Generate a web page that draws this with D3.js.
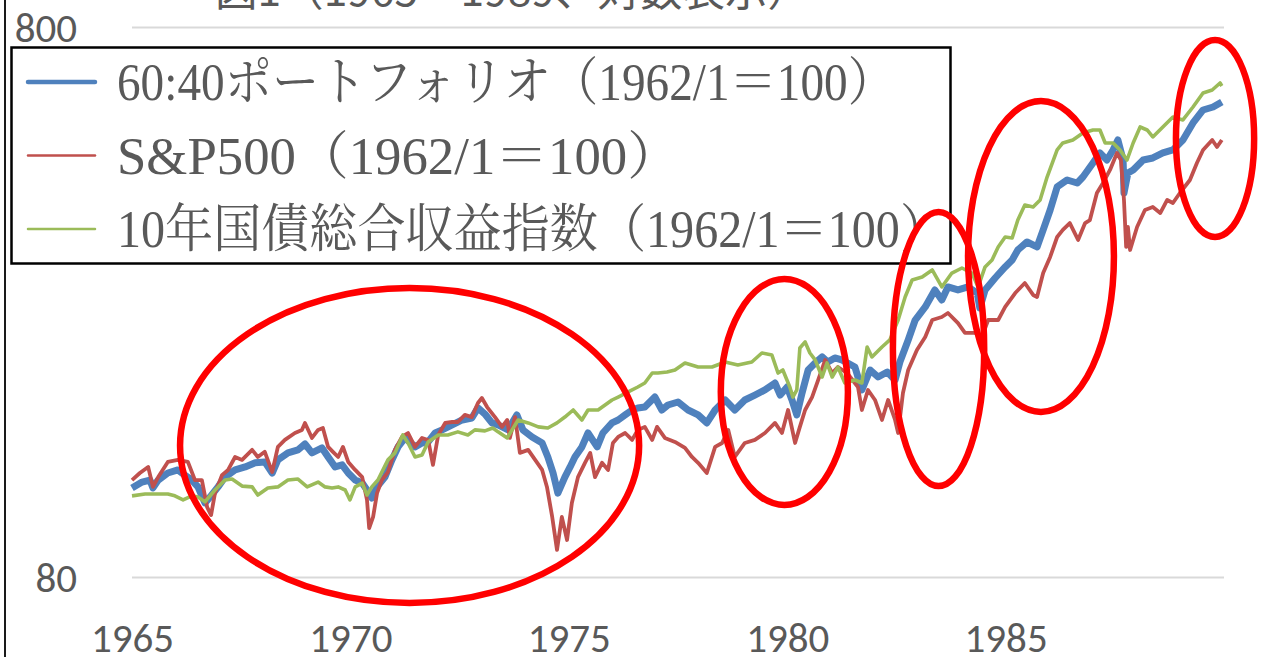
<!DOCTYPE html>
<html lang="ja">
<head>
<meta charset="utf-8">
<script src="https://cdn.jsdelivr.net/npm/d3@7"></script>
<style>
  html, body { margin: 0; padding: 0; background: #fff; }
  svg { display: block; }
</style>
</head>
<body>
<svg id="chart" width="1271" height="657"></svg>
<script>
// Series: [decimal year, index level (1962/1 = 100)]
const portfolio6040 = [[1965.00,116.4],[1965.23,119.3],[1965.41,120.3],[1965.48,116.4],[1965.60,120.3],[1965.82,123.9],[1966.05,125.5],[1966.21,122.8],[1966.37,120.3],[1966.51,116.9],[1966.67,109.3],[1966.79,112.1],[1966.97,116.9],[1967.13,121.8],[1967.36,125.5],[1967.59,127.1],[1967.82,129.3],[1968.04,129.8],[1968.21,123.9],[1968.34,130.9],[1968.57,134.8],[1968.80,136.5],[1968.96,139.9],[1969.12,134.8],[1969.35,137.6],[1969.49,132.5],[1969.65,127.1],[1969.81,128.2],[1969.95,123.9],[1970.11,120.3],[1970.27,118.8],[1970.38,115.4],[1970.49,111.6],[1970.61,116.9],[1970.79,121.8],[1970.95,130.9],[1971.09,138.2],[1971.25,143.5],[1971.48,138.2],[1971.64,140.5],[1971.78,141.1],[1971.94,146.5],[1972.10,148.4],[1972.33,151.5],[1972.56,154.7],[1972.78,156.0],[1972.92,162.7],[1973.08,158.6],[1973.24,152.8],[1973.38,151.5],[1973.61,148.4],[1973.81,158.0],[1973.95,148.4],[1974.16,144.1],[1974.39,140.5],[1974.52,132.5],[1974.64,123.9],[1974.75,113.9],[1974.91,121.8],[1975.03,127.1],[1975.14,132.5],[1975.30,138.2],[1975.44,146.5],[1975.65,138.2],[1975.78,146.5],[1975.99,152.8],[1976.13,154.7],[1976.29,158.0],[1976.45,161.3],[1976.58,162.7],[1976.74,163.3],[1976.97,170.3],[1977.13,161.3],[1977.27,164.7],[1977.50,166.8],[1977.73,161.3],[1977.96,158.0],[1978.16,152.8],[1978.35,161.3],[1978.58,168.2],[1978.80,161.3],[1979.03,168.2],[1979.26,171.7],[1979.49,175.4],[1979.72,180.6],[1979.84,171.7],[1980.00,177.6],[1980.11,168.2],[1980.22,158.0],[1980.34,173.2],[1980.48,190.7],[1980.64,196.4],[1980.80,201.4],[1980.93,197.2],[1981.09,200.6],[1981.25,198.9],[1981.55,193.1],[1981.71,175.4],[1981.90,190.7],[1982.08,185.2],[1982.29,189.1],[1982.47,182.9],[1982.58,197.2],[1982.77,216.3],[1982.93,235.1],[1983.16,248.3],[1983.38,266.6],[1983.54,255.7],[1983.68,270.0],[1983.91,266.6],[1984.14,270.0],[1984.35,263.2],[1984.41,247.3],[1984.53,266.6],[1984.76,280.3],[1984.99,293.6],[1985.15,302.3],[1985.28,315.2],[1985.49,325.9],[1985.72,319.2],[1985.86,342.8],[1986.02,372.6],[1986.18,410.3],[1986.41,422.5],[1986.64,417.2],[1986.77,427.8],[1987.00,453.6],[1987.16,473.1],[1987.32,459.4],[1987.46,479.1],[1987.57,499.6],[1987.69,459.4],[1987.71,400.1],[1987.80,435.0],[1987.92,440.6],[1988.15,459.4],[1988.37,463.3],[1988.60,473.1],[1988.83,479.1],[1989.06,499.6],[1989.29,536.4],[1989.52,566.4],[1989.75,573.5],[1989.95,585.6]];

const sp500 = [[1965.00,120.3],[1965.18,123.9],[1965.37,127.1],[1965.48,116.9],[1965.60,121.8],[1965.82,129.8],[1966.05,130.9],[1966.28,129.8],[1966.44,120.3],[1966.60,120.3],[1966.72,107.4],[1966.81,103.9],[1966.90,113.9],[1967.06,122.8],[1967.20,125.5],[1967.36,132.5],[1967.52,130.9],[1967.75,136.5],[1967.88,132.5],[1968.04,135.4],[1968.21,124.4],[1968.34,138.2],[1968.50,142.3],[1968.73,146.5],[1968.89,148.4],[1968.96,152.8],[1969.12,143.5],[1969.26,148.4],[1969.37,149.6],[1969.49,138.2],[1969.60,135.4],[1969.72,132.5],[1969.83,138.2],[1969.95,129.8],[1970.11,125.5],[1970.27,121.8],[1970.38,110.7],[1970.43,98.4],[1970.52,103.1],[1970.61,113.9],[1970.72,120.3],[1970.86,124.4],[1971.02,136.5],[1971.18,144.1],[1971.32,146.5],[1971.48,138.2],[1971.64,143.5],[1971.78,142.3],[1971.89,128.2],[1972.01,145.3],[1972.17,152.8],[1972.33,153.4],[1972.46,153.4],[1972.62,158.0],[1972.78,156.6],[1972.92,166.1],[1973.01,169.6],[1973.13,163.3],[1973.31,156.6],[1973.47,150.3],[1973.59,154.7],[1973.65,143.5],[1973.77,156.6],[1973.88,134.8],[1974.07,136.5],[1974.23,130.9],[1974.39,125.5],[1974.50,116.9],[1974.62,103.1],[1974.73,89.8],[1974.84,103.1],[1974.96,93.6],[1975.07,109.3],[1975.21,121.8],[1975.37,129.3],[1975.49,134.8],[1975.60,121.8],[1975.76,129.3],[1975.90,125.5],[1976.01,140.5],[1976.13,144.1],[1976.29,146.5],[1976.45,142.3],[1976.58,148.4],[1976.74,150.3],[1976.91,142.3],[1977.02,150.3],[1977.20,143.5],[1977.43,141.1],[1977.66,137.6],[1977.82,132.5],[1977.96,129.3],[1978.16,123.9],[1978.35,138.2],[1978.51,140.5],[1978.65,148.4],[1978.80,132.5],[1979.03,140.5],[1979.26,142.3],[1979.49,146.5],[1979.72,152.8],[1979.88,146.5],[1980.02,161.3],[1980.18,140.5],[1980.29,150.3],[1980.41,161.3],[1980.57,170.3],[1980.71,182.9],[1980.87,198.9],[1981.03,188.3],[1981.16,193.1],[1981.37,188.3],[1981.62,177.6],[1981.71,161.3],[1981.85,175.4],[1982.01,168.2],[1982.17,154.7],[1982.31,168.2],[1982.47,154.7],[1982.54,146.5],[1982.65,173.2],[1982.77,190.7],[1982.97,207.4],[1983.16,219.0],[1983.32,235.1],[1983.54,238.1],[1983.68,242.1],[1983.91,232.1],[1984.07,222.7],[1984.30,222.7],[1984.46,219.0],[1984.60,235.1],[1984.83,235.1],[1984.99,248.3],[1985.22,263.2],[1985.44,274.5],[1985.63,261.1],[1985.72,258.9],[1985.86,286.2],[1986.02,306.1],[1986.18,332.8],[1986.31,342.8],[1986.47,352.8],[1986.66,328.7],[1986.82,352.8],[1986.93,357.3],[1987.09,400.1],[1987.23,417.2],[1987.39,440.6],[1987.55,473.1],[1987.64,459.4],[1987.71,388.6],[1987.76,319.2],[1987.80,347.1],[1987.85,315.2],[1988.01,347.1],[1988.19,372.6],[1988.37,377.3],[1988.54,367.9],[1988.70,388.6],[1988.83,383.7],[1988.99,400.1],[1989.22,422.5],[1989.38,453.6],[1989.52,479.1],[1989.73,499.6],[1989.84,485.1],[1989.95,499.6]];

const treasury10y = [[1965.00,112.6],[1965.30,113.5],[1965.82,113.5],[1965.98,112.6],[1966.17,110.7],[1966.37,112.6],[1966.51,112.1],[1966.67,109.8],[1966.90,115.4],[1967.13,120.3],[1967.29,120.8],[1967.52,117.3],[1967.75,116.9],[1967.88,113.0],[1968.11,116.4],[1968.34,116.9],[1968.57,120.3],[1968.80,120.8],[1969.01,116.9],[1969.26,119.3],[1969.42,116.9],[1969.58,116.4],[1969.72,116.9],[1969.88,115.4],[1969.99,110.7],[1970.11,116.9],[1970.27,118.8],[1970.38,113.0],[1970.49,116.9],[1970.63,120.3],[1970.86,130.9],[1971.02,134.8],[1971.20,145.3],[1971.32,140.5],[1971.48,132.5],[1971.64,133.6],[1971.78,141.1],[1972.01,145.3],[1972.23,145.3],[1972.46,147.2],[1972.69,145.3],[1972.85,148.4],[1973.08,147.8],[1973.26,149.6],[1973.38,147.2],[1973.59,143.5],[1973.84,154.7],[1974.07,152.8],[1974.30,150.3],[1974.52,149.6],[1974.73,152.8],[1974.91,156.6],[1975.10,161.3],[1975.30,154.7],[1975.44,161.3],[1975.67,161.3],[1975.83,164.7],[1975.99,168.2],[1976.13,170.3],[1976.36,174.0],[1976.58,177.6],[1976.74,180.6],[1976.91,188.3],[1977.04,188.3],[1977.25,189.1],[1977.43,190.7],[1977.66,196.4],[1977.96,193.1],[1978.28,193.1],[1978.58,197.2],[1978.87,194.7],[1979.19,197.2],[1979.42,204.8],[1979.65,203.0],[1979.79,188.3],[1979.90,190.7],[1980.06,177.6],[1980.13,170.3],[1980.22,175.4],[1980.29,209.1],[1980.41,214.5],[1980.52,204.8],[1980.64,198.9],[1980.80,185.2],[1980.91,196.4],[1981.03,185.2],[1981.16,193.1],[1981.32,180.6],[1981.55,182.9],[1981.71,180.6],[1981.83,210.0],[1981.94,201.4],[1982.17,210.0],[1982.35,216.3],[1982.54,235.1],[1982.70,258.9],[1982.86,278.0],[1983.09,281.5],[1983.32,289.9],[1983.54,270.0],[1983.77,286.2],[1984.00,292.3],[1984.23,286.2],[1984.37,270.0],[1984.53,293.6],[1984.69,302.3],[1984.83,319.2],[1984.99,332.8],[1985.15,331.5],[1985.28,357.3],[1985.44,380.4],[1985.63,377.3],[1985.79,388.6],[1985.95,427.8],[1986.18,479.1],[1986.31,493.3],[1986.54,499.6],[1986.77,514.3],[1987.00,520.9],[1987.16,520.9],[1987.28,493.3],[1987.46,493.3],[1987.62,479.1],[1987.78,459.4],[1987.92,493.3],[1988.08,527.5],[1988.24,520.9],[1988.37,505.9],[1988.60,527.5],[1988.83,550.0],[1989.06,543.2],[1989.29,573.5],[1989.52,608.1],[1989.73,615.8],[1989.91,634.1],[1989.95,626.2]];

const seriesNames = [
  "60:40ポートフォリオ（1962/1＝100）",
  "S&P500（1962/1＝100）",
  "10年国債総合収益指数（1962/1＝100）"
];
const xTickYears = [1965, 1970, 1975, 1980, 1985];
const yTickValues = [80, 800];
const titleText = "図1（1965～1989、対数表示）";

// Highlighted periods: [from year, to year, low value, high value]
const highlightSpans = [
  [1966.10, 1976.61, 71.9, 268.8],
  [1978.48, 1981.39, 108.4, 279.1],
  [1982.42, 1984.51, 117.3, 369.5],
  [1984.14, 1987.48, 160.0, 588.1],
  [1988.90, 1990.69, 332.8, 759.2]
];

const svg = d3.select("#chart");
const W = 1271, H = 657;
svg.append("rect").attr("width", W).attr("height", H).attr("fill", "#fff");

const x = d3.scaleLinear().domain([1965, 1990]).range([132, 1224]);
const y = d3.scaleLog().domain([80, 800]).range([577.5, 27.5]);

const textGrey = "#595959";
const numFont = "Carlito, Lato, 'Liberation Sans', sans-serif";

// frame edge on the left
svg.append("line")
  .attr("x1", 5).attr("x2", 5).attr("y1", 0).attr("y2", H)
  .attr("stroke", "#1a1a1a").attr("stroke-width", 2);

// title (top is cropped by the canvas)
svg.append("text")
  .attr("x", 215).attr("y", 6)
  .attr("textLength", 595).attr("lengthAdjust", "spacingAndGlyphs")
  .attr("font-family", "'Noto Sans CJK JP', sans-serif")
  .attr("font-size", 42).attr("fill", textGrey)
  .text(titleText);

// horizontal gridlines
svg.append("g").selectAll("line").data(yTickValues).join("line")
  .attr("x1", x(1965)).attr("x2", x(1990))
  .attr("y1", d => y(d)).attr("y2", d => y(d))
  .attr("stroke", "#d9d9d9").attr("stroke-width", 2);

// y axis labels
const yAxis = svg.append("g")
  .attr("transform", "translate(77,0)")
  .call(d3.axisLeft(y).tickValues(yTickValues).tickFormat(d3.format("d")).tickSize(0).tickPadding(0));
yAxis.select(".domain").remove();
yAxis.selectAll("text")
  .attr("font-family", numFont).attr("font-size", 41).attr("fill", textGrey)
  .attr("dy", "0.35em");

// x axis labels
const xAxis = svg.append("g")
  .attr("transform", `translate(0,${y(80)})`)
  .call(d3.axisBottom(x).tickValues(xTickYears).tickFormat(d3.format("d")).tickSize(0).tickPadding(0));
xAxis.select(".domain").remove();
xAxis.selectAll("text")
  .attr("font-family", numFont).attr("font-size", 41).attr("fill", textGrey)
  .attr("y", 652 - y(80)).attr("dy", 0);

// series lines
const line = d3.line().x(d => x(d[0])).y(d => y(d[1]));
const series = [
  { data: portfolio6040, color: "#4f81bd", width: 7 },
  { data: sp500, color: "#c0504d", width: 3.8 },
  { data: treasury10y, color: "#9bbb59", width: 3.6 }
];
svg.append("g").selectAll("path").data(series).join("path")
  .attr("d", d => line(d.data))
  .attr("fill", "none")
  .attr("stroke", d => d.color)
  .attr("stroke-width", d => d.width)
  .attr("stroke-linejoin", "round");

// legend
const legend = svg.append("g");
legend.append("rect")
  .attr("x", 11.5).attr("y", 47.5).attr("width", 939).attr("height", 216)
  .attr("fill", "#fff").attr("stroke", "#000").attr("stroke-width", 2.5);
const legendRows = [
  { name: seriesNames[0], color: "#4f81bd", width: 4.5, len: 778 },
  { name: seriesNames[1], color: "#c0504d", width: 2.5, len: 563 },
  { name: seriesNames[2], color: "#9bbb59", width: 2.5, len: 831 }
];
const rowY = i => 82 + i * 73.5;
legend.selectAll("line").data(legendRows).join("line")
  .attr("x1", 28).attr("x2", 95)
  .attr("y1", (d, i) => rowY(i)).attr("y2", (d, i) => rowY(i))
  .attr("stroke", d => d.color).attr("stroke-width", d => d.width)
  .attr("stroke-linecap", "round");
legend.selectAll("text").data(legendRows).join("text")
  .attr("x", 117).attr("y", (d, i) => rowY(i) + 18)
  .attr("textLength", d => d.len).attr("lengthAdjust", "spacingAndGlyphs")
  .attr("font-family", "'Liberation Serif', 'Noto Serif CJK JP', 'Noto Sans CJK JP', serif")
  .attr("font-size", 52).attr("fill", textGrey)
  .text(d => d.name);

// highlight ellipses
svg.append("g").selectAll("ellipse").data(highlightSpans).join("ellipse")
  .attr("cx", d => (x(d[0]) + x(d[1])) / 2)
  .attr("cy", d => (y(d[2]) + y(d[3])) / 2)
  .attr("rx", d => (x(d[1]) - x(d[0])) / 2)
  .attr("ry", d => (y(d[2]) - y(d[3])) / 2)
  .attr("fill", "none").attr("stroke", "#ff0000").attr("stroke-width", 6.5);
</script>
</body>
</html>
